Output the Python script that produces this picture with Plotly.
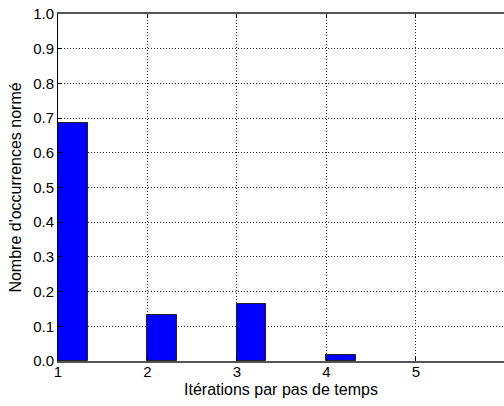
import plotly.graph_objects as go

iterations = [1, 2, 3, 4]
normed_counts = [0.685, 0.132, 0.165, 0.018]
x_ticks = [1, 2, 3, 4, 5]
y_ticks = [0.0, 0.1, 0.2, 0.3, 0.4, 0.5, 0.6, 0.7, 0.8, 0.9, 1.0]

fig = go.Figure()
fig.add_trace(go.Bar(
    x=iterations, y=normed_counts, width=0.33, offset=0,
    marker=dict(color="#0000ff", line=dict(color="#222222", width=1)),
))

font = dict(family="Liberation Sans, Arial, sans-serif", size=15, color="black")
fig.update_layout(
    width=504, height=406,
    margin=dict(l=58, r=0, t=14, b=45, autoexpand=False),
    plot_bgcolor="white", paper_bgcolor="white",
    font=font, showlegend=False, bargap=0,
)
fig.update_xaxes(
    range=[1, 5.985], tickvals=x_ticks, ticktext=[str(v) for v in x_ticks],
    showgrid=True, gridcolor="#222222", griddash="1px,2px", gridwidth=1,
    showline=True, linecolor="#555555", linewidth=1.5, mirror="ticks",
    ticks="inside", ticklen=4, tickcolor="black",
    zeroline=False, automargin=False, ticklabeloverflow="allow",
    ticklabelstandoff=-4,
    title=dict(text="Itérations par pas de temps", font=dict(size=16), standoff=5),
    tickfont=dict(size=15),
)
fig.update_yaxes(
    range=[0, 1], tickvals=y_ticks, ticktext=[f"{v:.1f}" for v in y_ticks],
    showgrid=True, gridcolor="#222222", griddash="1px,2px", gridwidth=1,
    showline=True, linecolor="black", linewidth=1, mirror=False,
    ticks="inside", ticklen=4, tickcolor="black",
    zeroline=False, automargin=False, ticklabeloverflow="allow",
    title=dict(text="Nombre d'occurrences normé", font=dict(size=16), standoff=7),
    tickfont=dict(size=15),
)
fig.write_html(
    "out.html",
    config={"displayModeBar": False},
    post_script="document.body.style.margin='0';document.body.style.overflow='hidden';",
)
